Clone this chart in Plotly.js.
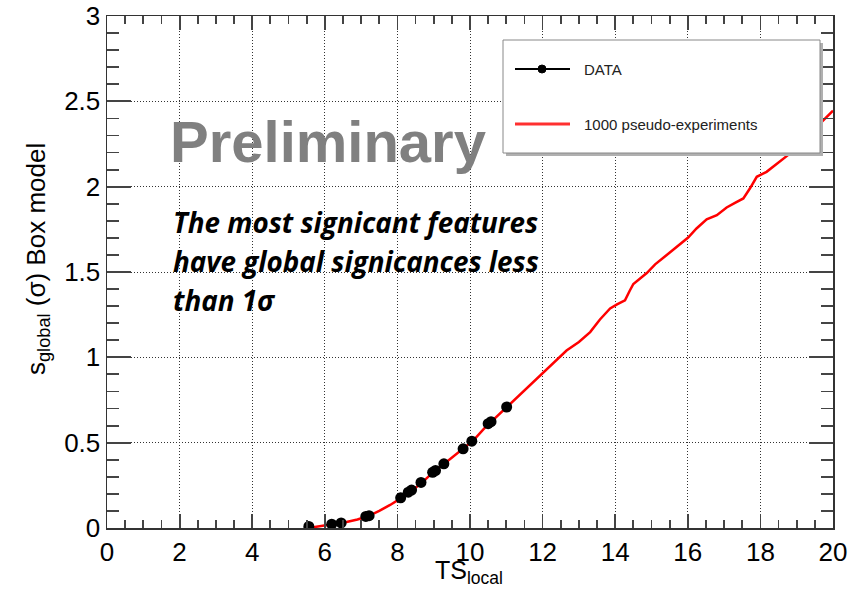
<!DOCTYPE html>
<html>
<head>
<meta charset="utf-8">
<script src="https://cdn.plot.ly/plotly-3.0.1.min.js"></script>
<style>html,body{margin:0;padding:0;background:#fff;}#chart{width:866px;height:589px;}</style>
</head>
<body>
<div id="chart"></div>
<script>
// Red curve: 1000 pseudo-experiments
const pseudoTS = [5.55,5.8,6.0,6.3,6.6,6.9,7.2,7.5,7.8,8.1,8.4,8.7,9.0,9.3,9.6,9.9,10.1,10.4,10.6,10.8,11.0,11.3,11.6,11.97,12.3,12.66,13.0,13.31,13.58,13.86,14.05,14.27,14.4,14.5,14.87,15.1,15.42,15.7,16.01,16.24,16.52,16.8,17.07,17.3,17.53,17.71,17.9,18.17,18.5,18.82,19.2,19.5,19.69,20.0];
const pseudoSig = [0.0,0.008,0.015,0.025,0.035,0.05,0.07,0.10,0.135,0.175,0.218,0.27,0.33,0.378,0.43,0.48,0.515,0.585,0.625,0.665,0.709,0.765,0.83,0.904,0.965,1.04,1.09,1.148,1.222,1.286,1.31,1.334,1.39,1.43,1.494,1.545,1.60,1.65,1.702,1.755,1.808,1.833,1.878,1.905,1.931,1.989,2.058,2.087,2.14,2.195,2.27,2.33,2.38,2.445];
// DATA points
const dataTS = [5.56,6.19,6.45,7.13,7.22,8.09,8.30,8.39,8.65,8.97,9.05,9.28,9.81,10.05,10.50,10.58,11.01];
const dataSig = [0.009,0.022,0.03,0.068,0.072,0.177,0.21,0.222,0.267,0.326,0.337,0.376,0.464,0.509,0.611,0.623,0.709];
const xTicks = [0,2,4,6,8,10,12,14,16,18,20];
const yTicks = [0,0.5,1,1.5,2,2.5,3];
const noteLines = ["The most signicant features","have global signicances less","than 1σ"];

const L=107, R=833, T=16, B=528;
const P = px => (px-L)/(R-L);
const Q = py => (B-py)/(B-T);
const axisFont = {family:'Liberation Sans, Arial, sans-serif', size:26, color:'#000'};

const traces = [
  {x:pseudoTS, y:pseudoSig, type:'scatter', mode:'lines', line:{color:'#ff0000', width:2.5}, showlegend:false, hoverinfo:'skip'},
  {x:dataTS, y:dataSig, type:'scatter', mode:'markers', marker:{color:'#000', size:11}, showlegend:false}
];

const axCommon = {
  showline:true, linecolor:'#333', linewidth:1.5, mirror:'allticks',
  ticks:'inside', tickcolor:'#444', tickwidth:1.8,
  showgrid:true, gridcolor:'#333', griddash:'1px,2px', gridwidth:1,
  zeroline:false, tickfont:axisFont, fixedrange:true
};

const annotations = [
  {xref:'paper', yref:'paper', x:P(168), y:Q(141), xanchor:'left', yanchor:'middle', showarrow:false,
   text:'Preliminary', font:{family:'Liberation Sans, Arial, sans-serif', size:58, color:'#808080', weight:700}},
  {xref:'paper', yref:'paper', x:P(582), y:Q(69), xanchor:'left', yanchor:'middle', showarrow:false,
   text:'DATA', font:{family:'Liberation Sans, Arial, sans-serif', size:15, color:'#222'}},
  {xref:'paper', yref:'paper', x:P(582), y:Q(124), xanchor:'left', yanchor:'middle', showarrow:false,
   text:'1000 pseudo-experiments', font:{family:'Liberation Sans, Arial, sans-serif', size:15, color:'#222'}},
  {xref:'paper', yref:'paper', x:P(37), y:Q(259), xanchor:'center', yanchor:'middle', showarrow:false, textangle:-90,
   text:'s<sub>global</sub> (σ) Box model', font:{family:'Liberation Sans, Arial, sans-serif', size:26, color:'#000'}},
  {xref:'paper', yref:'paper', x:P(469), y:Q(572), xanchor:'center', yanchor:'middle', showarrow:false,
   text:'TS<sub>local</sub>', font:{family:'Liberation Sans, Arial, sans-serif', size:25, color:'#000'}}
];
const noteY = [222, 261, 300];
noteLines.forEach((t,i)=>annotations.push({
  xref:'paper', yref:'paper', x:P(171), y:Q(noteY[i]), xanchor:'left', yanchor:'middle', showarrow:false,
  text:t, font:{family:'Open Sans, sans-serif', size:27.8, color:'#000', weight:700, style:'italic'}
}));

const shapes = [
  {type:'rect', xref:'paper', yref:'paper', x0:P(506), x1:P(823), y0:Q(156), y1:Q(43), fillcolor:'#b0b0b0', line:{width:0}, layer:'above'},
  {type:'rect', xref:'paper', yref:'paper', x0:P(503), x1:P(820), y0:Q(153), y1:Q(40), fillcolor:'#fff', line:{color:'#888', width:1}, layer:'above'},
  {type:'line', xref:'paper', yref:'paper', x0:P(515), x1:P(570), y0:Q(69), y1:Q(69), line:{color:'#000', width:2}, layer:'above'},
  {type:'circle', xref:'paper', yref:'paper', x0:P(538), x1:P(546), y0:Q(73), y1:Q(65), fillcolor:'#000', line:{color:'#000', width:1}, layer:'above'},
  {type:'line', xref:'paper', yref:'paper', x0:P(515), x1:P(570), y0:Q(124), y1:Q(124), line:{color:'#ff3030', width:3}, layer:'above'}
];

const layout = {
  width:866, height:589,
  margin:{l:L, r:866-R, t:T, b:589-B, pad:0},
  paper_bgcolor:'#fff', plot_bgcolor:'#fff',
  showlegend:false,
  xaxis:Object.assign({}, axCommon, {range:[0,20], tickmode:'array', tickvals:xTicks, ticktext:xTicks.map(String), ticklen:14,
    minor:{dtick:0.5, tick0:0, ticks:'inside', ticklen:8, tickcolor:'#444', tickwidth:1.8, showgrid:false}}),
  yaxis:Object.assign({}, axCommon, {range:[0,3], tickmode:'array', tickvals:yTicks, ticktext:yTicks.map(String), ticklen:24,
    minor:{dtick:0.1, tick0:0, ticks:'inside', ticklen:12, tickcolor:'#444', tickwidth:1.8, showgrid:false}}),
  annotations:annotations,
  shapes:shapes
};

Plotly.newPlot('chart', traces, layout, {staticPlot:true, displayModeBar:false});
</script>
</body>
</html>
